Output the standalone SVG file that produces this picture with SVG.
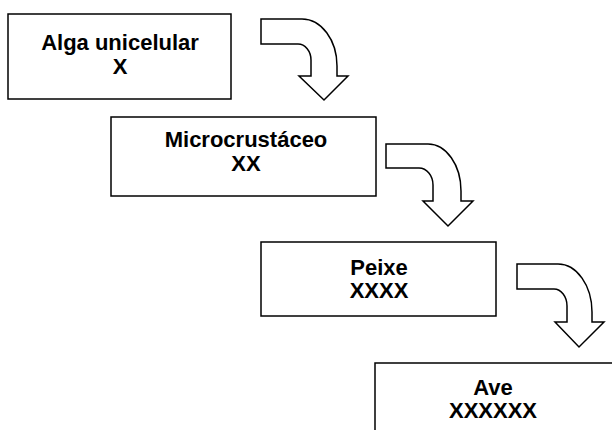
<svg xmlns="http://www.w3.org/2000/svg" width="612" height="430" viewBox="0 0 612 430">
<style>
.box{fill:#fff;stroke:#000;stroke-width:1.5}
.arr{fill:#fff;stroke:#000;stroke-width:1.5;stroke-linejoin:miter}
.t{font-family:"Liberation Sans",Arial,sans-serif;font-weight:bold;font-size:22px;text-anchor:middle;fill:#000}
</style>
<rect width="612" height="430" fill="#fff"/>
<g id="alga">
<rect class="box" x="8" y="14" width="223" height="85"/>
<text class="t" x="120" y="50">Alga unicelular</text>
<text class="t" x="120" y="74">X</text>
</g>
<g id="microcrustaceo">
<rect class="box" x="111" y="117" width="265" height="79"/>
<text class="t" x="246" y="147">Microcrustáceo</text>
<text class="t" x="246" y="171">XX</text>
</g>
<g id="peixe">
<rect class="box" x="261" y="242" width="235" height="74"/>
<text class="t" x="379" y="275">Peixe</text>
<text class="t" x="379" y="298">XXXX</text>
</g>
<g id="ave">
<rect class="box" x="375" y="363" width="260" height="90"/>
<text class="t" x="493" y="395">Ave</text>
<text class="t" x="493" y="418">XXXXXX</text>
</g>
<g id="connectors">
<path class="arr" d="M261,19 L302,19 A35,47 0 0 1 337,66 L337,76 L348,76 L324,100 L299,76 L311,76 L311,60 A13,16 0 0 0 298,44 L261,44 Z"/>
<path class="arr" d="M386,144 L428,144 A33,47 0 0 1 461,191 L461,201 L473,201 L448,226 L423,201 L433,201 L433,185 A14,17 0 0 0 419,168 L386,168 Z"/>
<path class="arr" d="M517,264 L558,264 A34,48 0 0 1 592,312 L592,322 L604,322 L579,347 L555,322 L567,322 L567,306 A13,17 0 0 0 554,289 L517,289 Z"/>
</g>
</svg>
